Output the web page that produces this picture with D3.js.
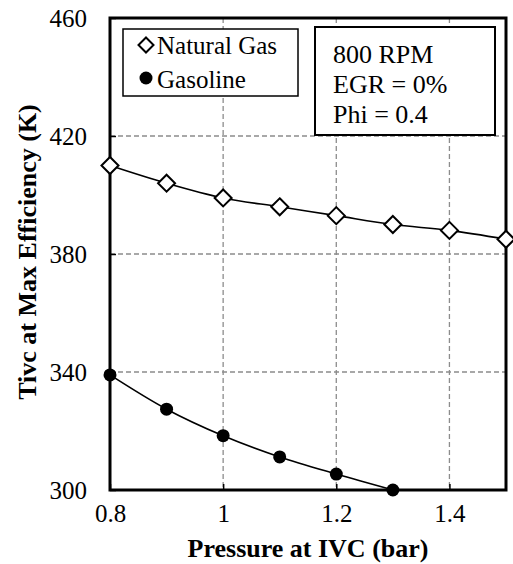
<!DOCTYPE html>
<html>
<head>
<meta charset="utf-8">
<script src="https://cdn.jsdelivr.net/npm/d3@7"></script>
<style>
  html, body { margin: 0; padding: 0; background: #fff; }
  svg text { font-family: "Liberation Serif", "Times New Roman", serif !important; fill: #000; }
</style>
</head>
<body>
<svg id="chart" width="513" height="564"></svg>
<script>
// ---- data ----
const pressure = [0.8, 0.9, 1.0, 1.1, 1.2, 1.3, 1.4, 1.5];
const naturalGas = [410, 404, 399, 396, 393, 390, 388, 385];
const gasolinePressure = [0.8, 0.9, 1.0, 1.1, 1.2, 1.3];
const gasoline = [339, 327.4, 318.4, 311.2, 305.4, 300];
const xTicks = [0.8, 1.0, 1.2, 1.4];
const yTicks = [300, 340, 380, 420, 460];
const legendLabels = ["Natural Gas", "Gasoline"];
const noteLines = ["800 RPM", "EGR = 0%", "Phi = 0.4"];
const xTitle = "Pressure at IVC (bar)";
const yTitle = "Tivc at Max Efficiency (K)";

// ---- layout ----
const svg = d3.select("#chart");
const L = 110, R = 506, T = 18, B = 490;
const x = d3.scaleLinear().domain([0.8, 1.5]).range([L, R]);
const y = d3.scaleLinear().domain([300, 460]).range([B, T]);
const fs = 25;

// gridlines
const grid = svg.append("g").attr("stroke", "#8c8c8c").attr("stroke-width", 1.3).attr("stroke-dasharray", "5,3");
grid.selectAll("line.v").data(xTicks.filter(d => d > 0.8)).join("line")
  .attr("x1", d => x(d)).attr("x2", d => x(d)).attr("y1", T).attr("y2", B);
grid.selectAll("line.h").data(yTicks.filter(d => d > 300 && d < 460)).join("line")
  .attr("x1", L).attr("x2", R).attr("y1", d => y(d)).attr("y2", d => y(d));

// axes (ticks inside)
const xAxis = d3.axisBottom(x).tickValues(xTicks).tickSizeInner(-6).tickSizeOuter(0).tickPadding(14)
  .tickFormat(d => String(+d.toFixed(1)));
const gx = svg.append("g").attr("transform", `translate(0,${B})`).call(xAxis);
gx.attr("font-family", null);
gx.select(".domain").remove();
gx.selectAll(".tick line").attr("stroke", "#000").attr("stroke-width", 1.5);
gx.selectAll(".tick text").attr("font-size", fs).attr("dy", "0.71em");

const yAxis = d3.axisLeft(y).tickValues(yTicks).tickSizeInner(-6).tickSizeOuter(0).tickPadding(23);
const gy = svg.append("g").attr("transform", `translate(${L},0)`).call(yAxis);
gy.attr("font-family", null);
gy.select(".domain").remove();
gy.selectAll(".tick line").attr("stroke", "#000").attr("stroke-width", 1.5);
gy.selectAll(".tick text").attr("font-size", fs);

// plot border
svg.append("rect").attr("x", L).attr("y", T).attr("width", R - L).attr("height", B - T)
  .attr("fill", "none").attr("stroke", "#000").attr("stroke-width", 3);

// lines
const ng = pressure.map((p, i) => [p, naturalGas[i]]);
const gs = gasolinePressure.map((p, i) => [p, gasoline[i]]);
const line = d3.line().x(d => x(d[0])).y(d => y(d[1])).curve(d3.curveCatmullRom.alpha(0.5));
svg.append("path").attr("d", line(ng)).attr("fill", "none").attr("stroke", "#000").attr("stroke-width", 1.6);
svg.append("path").attr("d", line(gs)).attr("fill", "none").attr("stroke", "#000").attr("stroke-width", 1.6);

// markers
const diamond = (cx, cy, h) => `M${cx},${cy - h}L${cx + h},${cy}L${cx},${cy + h}L${cx - h},${cy}Z`;
svg.append("g").selectAll("path").data(ng).join("path")
  .attr("d", d => diamond(x(d[0]), y(d[1]), 8.5))
  .attr("fill", "#fff").attr("stroke", "#000").attr("stroke-width", 2);
svg.append("g").selectAll("circle").data(gs).join("circle")
  .attr("cx", d => x(d[0])).attr("cy", d => y(d[1])).attr("r", 6.5).attr("fill", "#000");

// legend
const lg = svg.append("g");
lg.append("rect").attr("x", 123).attr("y", 29).attr("width", 175).attr("height", 67)
  .attr("fill", "#fff").attr("stroke", "#000").attr("stroke-width", 1.5);
lg.append("path").attr("d", diamond(146, 45, 7.5)).attr("fill", "#fff").attr("stroke", "#000").attr("stroke-width", 2);
lg.append("circle").attr("cx", 146).attr("cy", 78).attr("r", 6.5).attr("fill", "#000");
lg.selectAll("text").data(legendLabels).join("text")
  .attr("x", 157).attr("y", (d, i) => 54 + i * 33.5).attr("font-size", fs).text(d => d);

// note box
const nb = svg.append("g");
nb.append("rect").attr("x", 315).attr("y", 27).attr("width", 180).attr("height", 108)
  .attr("fill", "#fff").attr("stroke", "#000").attr("stroke-width", 2);
nb.selectAll("text").data(noteLines).join("text")
  .attr("x", 333).attr("y", (d, i) => 62.5 + i * 30).attr("font-size", 26).text(d => d);

// titles
svg.append("text").attr("x", (L + R) / 2).attr("y", 557).attr("text-anchor", "middle")
  .attr("font-size", 26).attr("font-weight", "bold").text(xTitle);
svg.append("text").attr("transform", `translate(36,${(T + B) / 2 - 2}) rotate(-90)`).attr("text-anchor", "middle")
  .attr("font-size", 26).attr("font-weight", "bold").text(yTitle);
</script>
</body>
</html>
